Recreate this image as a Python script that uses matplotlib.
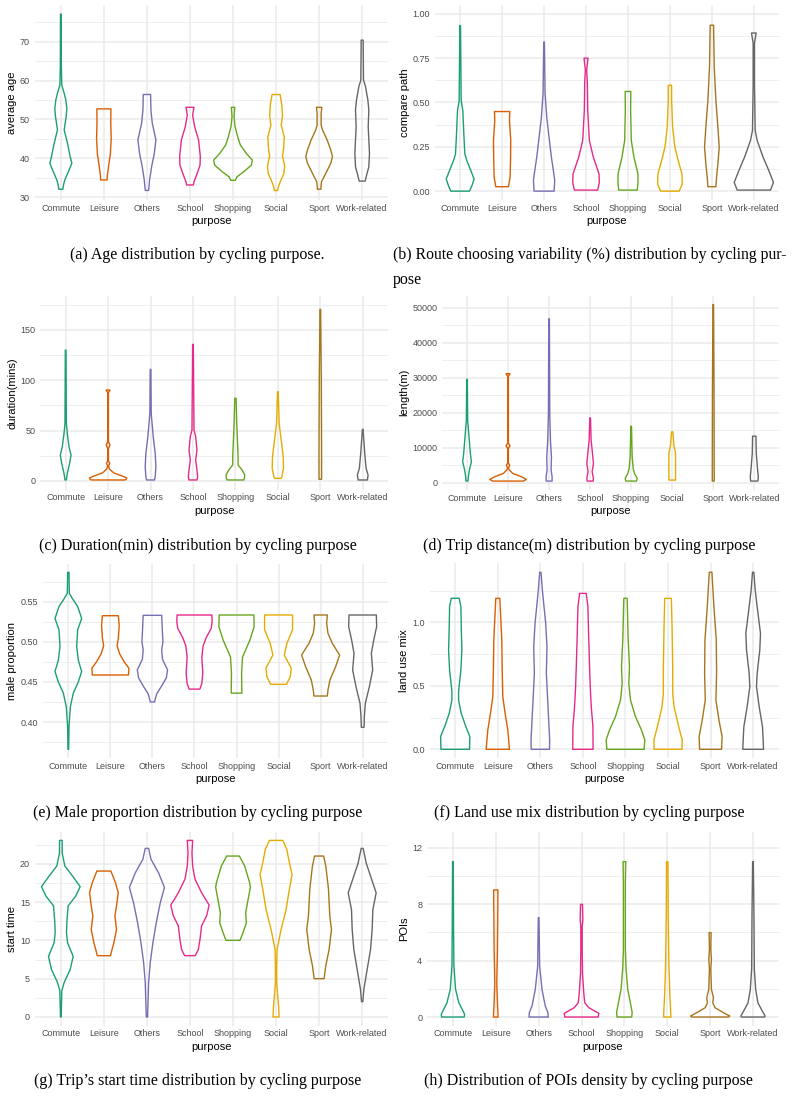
import numpy as np
import matplotlib.pyplot as plt

plt.rcParams['font.family'] = ['Liberation Sans', 'DejaVu Sans']

purposes = ['Commute', 'Leisure', 'Others', 'School', 'Shopping', 'Social', 'Sport', 'Work-related']
colors = ['#1B9E77', '#D95F02', '#7570B3', '#E7298A', '#66A61E', '#E6AB02', '#A6761D', '#666666']

# each violin = y levels (bottom -> top) + half width at that level (in category units)
# (a) average age
age_y = [
    [32.0, 33.1, 34.4, 37.0, 38.7, 40.4, 43.8, 47.3, 50.7, 52.8, 55.0, 56.7, 58.8, 63.6, 77.1],
    [34.4, 35.5, 38.0, 41.0, 45.0, 49.0, 52.7],
    [31.7, 34.4, 37.8, 41.2, 44.7, 49.0, 52.4, 56.4],
    [33.1, 33.9, 35.7, 38.2, 40.4, 44.7, 48.1, 51.1, 53.1],
    [34.3, 35.2, 36.5, 38.2, 39.5, 41.2, 43.4, 45.5, 48.1, 50.7, 53.1],
    [31.7, 32.5, 34.0, 36.0, 38.0, 40.5, 43.0, 45.5, 48.5, 51.0, 54.0, 56.4],
    [32.0, 33.9, 36.1, 38.7, 40.4, 42.1, 44.7, 47.3, 48.5, 51.5, 53.1],
    [34.1, 35.2, 37.8, 41.2, 44.7, 48.1, 52.4, 55.0, 58.4, 60.1, 70.4],
]
age_w = [
    [0.047, 0.062, 0.093, 0.194, 0.256, 0.217, 0.155, 0.078, 0.124, 0.140, 0.116, 0.078, 0.023, 0.012, 0.008],
    [0.075, 0.08, 0.11, 0.15, 0.17, 0.16, 0.163],
    [0.039, 0.062, 0.109, 0.171, 0.209, 0.124, 0.093, 0.085],
    [0.078, 0.093, 0.155, 0.233, 0.240, 0.2, 0.109, 0.062, 0.093],
    [0.054, 0.093, 0.248, 0.426, 0.45, 0.31, 0.17, 0.109, 0.047, 0.023, 0.039],
    [0.04, 0.05, 0.1, 0.18, 0.2, 0.15, 0.18, 0.19, 0.12, 0.15, 0.13, 0.093],
    [0.039, 0.054, 0.155, 0.271, 0.31, 0.271, 0.186, 0.078, 0.047, 0.047, 0.062],
    [0.07, 0.093, 0.155, 0.17, 0.155, 0.14, 0.155, 0.132, 0.078, 0.031, 0.023],
]

# (b) compare path
path_y = [
    [0.0, 0.03, 0.068, 0.116, 0.172, 0.21, 0.324, 0.456, 0.51, 0.934],
    [0.025, 0.078, 0.172, 0.286, 0.40, 0.449],
    [0.0, 0.059, 0.116, 0.191, 0.286, 0.419, 0.551, 0.841],
    [0.006, 0.049, 0.097, 0.191, 0.286, 0.456, 0.608, 0.684, 0.75],
    [0.006, 0.049, 0.097, 0.191, 0.286, 0.456, 0.5625],
    [0.0, 0.04, 0.097, 0.172, 0.248, 0.362, 0.513, 0.597],
    [0.025, 0.078, 0.153, 0.248, 0.362, 0.513, 0.70, 0.936],
    [0.006, 0.049, 0.116, 0.191, 0.286, 0.343, 0.608, 0.835, 0.892],
]
path_w = [
    [0.222, 0.278, 0.333, 0.254, 0.159, 0.111, 0.087, 0.063, 0.024, 0.008],
    [0.15, 0.19, 0.2, 0.206, 0.175, 0.183],
    [0.238, 0.254, 0.222, 0.175, 0.127, 0.063, 0.024, 0.008],
    [0.278, 0.317, 0.31, 0.175, 0.079, 0.04, 0.032, 0.016, 0.048],
    [0.222, 0.238, 0.238, 0.143, 0.079, 0.063, 0.067],
    [0.222, 0.294, 0.286, 0.198, 0.119, 0.063, 0.04, 0.04],
    [0.095, 0.111, 0.143, 0.175, 0.143, 0.095, 0.056, 0.04],
    [0.397, 0.468, 0.357, 0.222, 0.079, 0.032, 0.016, 0.016, 0.056],
]

# (c) duration (mins)
dur_y = [
    [1.0, 7.6, 17.5, 25.8, 34.0, 47.0, 57.0, 129.8],
    [1.0, 1.5, 3.0, 5.0, 8.0, 12.0, 15.0, 17.5, 20.0, 32.0, 35.7, 39.0, 87.5, 90.2],
    [1.0, 4.3, 14.2, 27.4, 44.0, 67.0, 110.7],
    [1.0, 4.3, 10.9, 20.8, 30.7, 44.0, 50.5, 135.5],
    [1.0, 2.6, 5.9, 10.9, 15.9, 24.0, 40.6, 57.0, 82.0],
    [2.6, 4.3, 12.6, 24.0, 40.6, 57.0, 88.5],
    [1.7, 34.0, 100.0, 170.2],
    [1.0, 5.9, 12.6, 27.4, 51.2],
]
dur_w = [
    [0.016, 0.039, 0.094, 0.126, 0.079, 0.039, 0.016, 0.008],
    [0.39, 0.42, 0.44, 0.33, 0.13, 0.03, 0.01, 0.04, 0.008, 0.008, 0.045, 0.008, 0.008, 0.047],
    [0.094, 0.11, 0.126, 0.11, 0.063, 0.016, 0.008],
    [0.094, 0.11, 0.094, 0.063, 0.094, 0.063, 0.024, 0.008],
    [0.197, 0.212, 0.22, 0.157, 0.063, 0.063, 0.047, 0.031, 0.016],
    [0.079, 0.094, 0.134, 0.126, 0.079, 0.031, 0.008],
    [0.031, 0.031, 0.024, 0.008],
    [0.11, 0.126, 0.079, 0.047, 0.008],
]

# (d) trip length (m)
len_y = [
    [475, 1711, 3612, 5989, 8365, 13118, 17871, 29564],
    [475, 951, 1711, 2662, 3612, 4200, 4943, 5700, 9800, 10552, 11300, 30400, 31180],
    [475, 1711, 3612, 7415, 12168, 19773, 46865],
    [475, 1236, 3137, 5513, 8365, 12168, 18537],
    [475, 1236, 2662, 4088, 7415, 16160],
    [760, 5513, 8365, 10742, 14544],
    [475, 25000, 50952],
    [475, 1711, 3612, 8365, 13308],
]
len_w = [
    [0.024, 0.033, 0.057, 0.106, 0.081, 0.049, 0.016, 0.008],
    [0.37, 0.447, 0.325, 0.114, 0.033, 0.008, 0.041, 0.008, 0.008, 0.049, 0.008, 0.008, 0.049],
    [0.073, 0.073, 0.049, 0.057, 0.033, 0.016, 0.008],
    [0.073, 0.081, 0.049, 0.081, 0.057, 0.024, 0.008],
    [0.13, 0.146, 0.081, 0.049, 0.024, 0.008],
    [0.081, 0.081, 0.081, 0.041, 0.016],
    [0.024, 0.02, 0.008],
    [0.089, 0.098, 0.081, 0.049, 0.041],
]

# (e) male proportion
male_y = [
    [0.366, 0.394, 0.419, 0.436, 0.450, 0.463, 0.477, 0.494, 0.515, 0.529, 0.544, 0.554, 0.5604, 0.5866],
    [0.4586, 0.467, 0.475, 0.485, 0.495, 0.505, 0.52, 0.5325],
    [0.425, 0.435, 0.445, 0.455, 0.465, 0.478, 0.49, 0.50, 0.515, 0.533],
    [0.441, 0.448, 0.461, 0.481, 0.495, 0.505, 0.5167, 0.525, 0.5334],
    [0.436, 0.461, 0.481, 0.502, 0.519, 0.5334],
    [0.447, 0.4565, 0.467, 0.4835, 0.498, 0.515, 0.5334],
    [0.4324, 0.44, 0.4524, 0.469, 0.4835, 0.498, 0.5105, 0.523, 0.5334],
    [0.3934, 0.4066, 0.4233, 0.444, 0.4648, 0.4856, 0.502, 0.519, 0.5334],
]
male_w = [
    [0.008, 0.016, 0.048, 0.119, 0.238, 0.317, 0.238, 0.198, 0.222, 0.317, 0.222, 0.095, 0.024, 0.016],
    [0.43, 0.44, 0.33, 0.22, 0.16, 0.19, 0.21, 0.19],
    [0.05, 0.1, 0.22, 0.33, 0.36, 0.24, 0.22, 0.25, 0.235, 0.22],
    [0.127, 0.175, 0.198, 0.175, 0.206, 0.278, 0.397, 0.42, 0.413],
    [0.127, 0.12, 0.143, 0.317, 0.42, 0.413],
    [0.19, 0.278, 0.302, 0.135, 0.198, 0.333, 0.333],
    [0.159, 0.175, 0.222, 0.357, 0.452, 0.278, 0.175, 0.143, 0.159],
    [0.032, 0.04, 0.063, 0.159, 0.238, 0.206, 0.262, 0.333, 0.325],
]

# (f) land use mix
mix_y = [
    [0.0, 0.0997, 0.178, 0.283, 0.388, 0.454, 0.625, 0.782, 0.966, 1.123, 1.189],
    [0.0, 0.152, 0.283, 0.415, 0.651, 0.861, 1.189],
    [0.0, 0.0735, 0.178, 0.388, 0.598, 0.808, 0.992, 1.255, 1.394],
    [0.0, 0.178, 0.336, 0.493, 0.651, 0.913, 1.123, 1.228],
    [0.0, 0.0735, 0.152, 0.257, 0.388, 0.52, 0.651, 0.861, 1.189],
    [0.0, 0.0735, 0.178, 0.336, 0.441, 0.651, 0.966, 1.189],
    [0.0, 0.0997, 0.231, 0.388, 0.598, 0.861, 1.123, 1.394],
    [0.0, 0.0735, 0.178, 0.336, 0.493, 0.598, 0.782, 0.913, 1.123, 1.255, 1.394],
]
mix_w = [
    [0.336, 0.344, 0.25, 0.141, 0.078, 0.078, 0.133, 0.156, 0.141, 0.133, 0.094],
    [0.274, 0.235, 0.172, 0.117, 0.102, 0.094, 0.047],
    [0.215, 0.219, 0.203, 0.172, 0.141, 0.156, 0.125, 0.047, 0.016],
    [0.239, 0.235, 0.196, 0.172, 0.156, 0.133, 0.117, 0.078],
    [0.438, 0.454, 0.376, 0.235, 0.117, 0.078, 0.094, 0.063, 0.039],
    [0.329, 0.333, 0.25, 0.141, 0.11, 0.11, 0.094, 0.078],
    [0.258, 0.27, 0.196, 0.125, 0.141, 0.133, 0.078, 0.031],
    [0.243, 0.235, 0.219, 0.141, 0.078, 0.094, 0.156, 0.172, 0.094, 0.047, 0.016],
]

# (g) start time
start_y = [
    [0.0, 3.4, 4.5, 6.2, 7.9, 9.7, 11.0, 12.3, 14.5, 15.8, 17.0, 18.4, 19.7, 21.4, 23.04],
    [8.0, 8.4, 9.7, 11.4, 13.2, 14.5, 16.2, 17.5, 19.04],
    [0.0, 4.5, 7.1, 9.7, 12.3, 14.9, 16.9, 18.8, 20.6, 22.0],
    [8.0, 8.8, 10.1, 11.9, 13.2, 14.6, 16.2, 18.0, 19.7, 21.4, 23.04],
    [10.0, 11.0, 12.3, 13.6, 15.3, 16.9, 17.5, 19.7, 21.0],
    [0.0, 1.2, 2.7, 4.5, 6.7, 8.8, 11.4, 14.0, 16.7, 18.6, 20.1, 21.9, 23.04],
    [5.0, 6.7, 8.8, 11.4, 13.2, 16.7, 19.7, 21.0],
    [2.0, 3.6, 6.2, 8.8, 11.4, 14.0, 16.2, 18.0, 20.1, 22.0],
]
start_w = [
    [0.008, 0.023, 0.077, 0.217, 0.287, 0.155, 0.132, 0.139, 0.17, 0.349, 0.449, 0.271, 0.093, 0.031, 0.031],
    [0.155, 0.17, 0.232, 0.294, 0.256, 0.294, 0.333, 0.271, 0.163],
    [0.015, 0.039, 0.077, 0.139, 0.217, 0.31, 0.407, 0.271, 0.093, 0.039],
    [0.124, 0.194, 0.232, 0.271, 0.387, 0.445, 0.271, 0.116, 0.062, 0.046, 0.062],
    [0.163, 0.232, 0.31, 0.294, 0.349, 0.403, 0.387, 0.271, 0.147],
    [0.07, 0.062, 0.039, 0.015, 0.015, 0.023, 0.116, 0.232, 0.31, 0.372, 0.31, 0.248, 0.155],
    [0.116, 0.155, 0.232, 0.287, 0.248, 0.217, 0.155, 0.105],
    [0.015, 0.039, 0.116, 0.194, 0.232, 0.248, 0.325, 0.217, 0.093, 0.023],
]

# (h) POIs
poi_y = [
    [0.0, 0.19, 0.54, 1.0, 1.96, 3.6, 6.0, 11.0],
    [0.0, 1.0, 2.4, 4.8, 9.0],
    [0.0, 0.31, 0.78, 1.37, 1.96, 3.6, 7.04],
    [0.0, 0.26, 0.66, 1.0, 1.37, 1.96, 3.1, 4.8, 6.4, 6.9, 7.98],
    [0.0, 0.31, 1.0, 1.96, 3.4, 4.8, 9.5, 11.0],
    [0.0, 0.54, 1.5, 3.6, 7.2, 11.0],
    [0.0, 0.07, 0.31, 0.66, 1.0, 1.37, 1.96, 2.7, 3.4, 4.1, 4.8, 5.98],
    [0.0, 0.07, 0.43, 1.0, 1.96, 3.4, 7.2, 11.0],
]
poi_w = [
    [0.264, 0.272, 0.217, 0.14, 0.062, 0.023, 0.016, 0.008],
    [0.054, 0.039, 0.023, 0.039, 0.05],
    [0.225, 0.217, 0.155, 0.116, 0.078, 0.023, 0.008],
    [0.388, 0.404, 0.171, 0.078, 0.062, 0.047, 0.023, 0.016, 0.016, 0.031, 0.023],
    [0.171, 0.182, 0.14, 0.078, 0.039, 0.023, 0.023, 0.031],
    [0.085, 0.078, 0.062, 0.039, 0.023, 0.016],
    [0.427, 0.458, 0.31, 0.116, 0.062, 0.078, 0.031, 0.023, 0.016, 0.031, 0.016, 0.023],
    [0.272, 0.283, 0.217, 0.116, 0.062, 0.031, 0.023, 0.008],
]

W, H = 794, 1096
fig = plt.figure(figsize=(W / 100, H / 100), dpi=100)


def px_rect(l, t, r, b):
    return [l / W, 1 - b / H, (r - l) / W, (b - t) / H]


def violin_panel(rect, ys, ws, ylabel, ylim, yticks, ytick_labels, yminor, ylab_x):
    ax = fig.add_axes(px_rect(*rect))
    for i, (yy, ww) in enumerate(zip(ys, ws)):
        yy = np.array(yy, dtype=float)
        ww = np.array(ww)
        c = i + 1
        ax.fill_betweenx(yy, c - ww, c + ww, facecolor='none',
                         edgecolor=colors[i], lw=1.0, joinstyle='round', zorder=3)
    ax.set_xlim(0.4, 8.6)
    ax.set_ylim(*ylim)
    ax.set_xticks(range(1, 9))
    ax.set_xticklabels(purposes)
    ax.set_yticks(yticks)
    ax.set_yticklabels(ytick_labels)
    ax.set_yticks(yminor, minor=True)
    ax.set_axisbelow(True)
    ax.grid(True, which='major', color='#EBEBEB', lw=1.1)
    ax.grid(True, which='minor', axis='y', color='#EBEBEB', lw=0.55)
    ax.tick_params(which='both', length=0, labelsize=6.5, labelcolor='#4D4D4D')
    ax.tick_params(axis='x', pad=2.6)
    ax.tick_params(axis='y', pad=3.6)
    for s in ax.spines.values():
        s.set_visible(False)
    l, t, r, b = rect
    ax.set_xlabel('purpose', fontsize=8, va='center')
    ax.xaxis.set_label_coords(0.5, -21 / (b - t))
    ax.set_ylabel(ylabel, fontsize=8, va='center')
    ax.yaxis.set_label_coords((ylab_x - l) / (r - l), 0.5)
    return ax


violin_panel((35, 5, 388, 200), age_y, age_w, 'average age', (29.23, 79.45),
             [30, 40, 50, 60, 70], ['30', '40', '50', '60', '70'], [35, 45, 55, 65, 75], 12)
violin_panel((435, 5, 779, 200), path_y, path_w, 'compare path', (-0.05, 1.05),
             [0, 0.25, 0.5, 0.75, 1.0], ['0.00', '0.25', '0.50', '0.75', '1.00'],
             [0.125, 0.375, 0.625, 0.875], 405)
violin_panel((40.2, 295.7, 388.2, 489.8), dur_y, dur_w, 'duration(mins)', (-8.75, 183.75),
             [0, 50, 100, 150], ['0', '50', '100', '150'], [25, 75, 125, 175], 12.3)
violin_panel((442.4, 295.7, 778.9, 489.9), len_y, len_w, 'length(m)', (-2049, 53476),
             [0, 10000, 20000, 30000, 40000, 50000],
             ['0', '10000', '20000', '30000', '40000', '50000'],
             [5000, 15000, 25000, 35000, 45000], 404)
violin_panel((43.1, 563.5, 387.9, 758.1), male_y, male_w, 'male proportion', (0.355, 0.5976),
             [0.40, 0.45, 0.50, 0.55], ['0.40', '0.45', '0.50', '0.55'],
             [0.375, 0.425, 0.475, 0.525, 0.575], 12)
violin_panel((429.7, 563.4, 778.7, 758.2), mix_y, mix_w, 'land use mix', (-0.07, 1.464),
             [0.0, 0.5, 1.0], ['0.0', '0.5', '1.0'], [0.25, 0.75, 1.25], 404)
violin_panel((35, 831.9, 388, 1025.8), start_y, start_w, 'start time', (-1.15, 24.15),
             [0, 5, 10, 15, 20], ['0', '5', '10', '15', '20'], [2.5, 7.5, 12.5, 17.5, 22.5], 12)
violin_panel((427.2, 832, 778.7, 1025.8), poi_y, poi_w, 'POIs', (-0.62, 13.1),
             [0, 4, 8, 12], ['0', '4', '8', '12'], [2, 6, 10], 404)

cap = dict(family=['Liberation Serif', 'DejaVu Serif'], fontsize=11.5, va='center')
fig.text(197 / W, 1 - 255 / H, '(a) Age distribution by cycling purpose.', ha='center', **cap)
fig.text(393 / W, 1 - 255 / H, '(b) Route choosing variability (%) distribution by cycling pur-',
         ha='left', **{**cap, 'fontsize': 11.3})
fig.text(393 / W, 1 - 280 / H, 'pose', ha='left', **cap)
fig.text(197.5 / W, 1 - 546.5 / H, '(c) Duration(min) distribution by cycling purpose', ha='center', **cap)
fig.text(588.7 / W, 1 - 545.5 / H, '(d) Trip distance(m) distribution by cycling purpose', ha='center', **cap)
fig.text(197.5 / W, 1 - 813 / H, '(e) Male proportion distribution by cycling purpose', ha='center', **cap)
fig.text(589.5 / W, 1 - 813 / H, '(f) Land use mix distribution by cycling purpose', ha='center', **cap)
fig.text(197.5 / W, 1 - 1081 / H, '(g) Trip\u2019s start time distribution by cycling purpose', ha='center', **cap)
fig.text(588.7 / W, 1 - 1081 / H, '(h) Distribution of POIs density by cycling purpose', ha='center', **cap)

fig.savefig('out.png', dpi=100, facecolor='white')
